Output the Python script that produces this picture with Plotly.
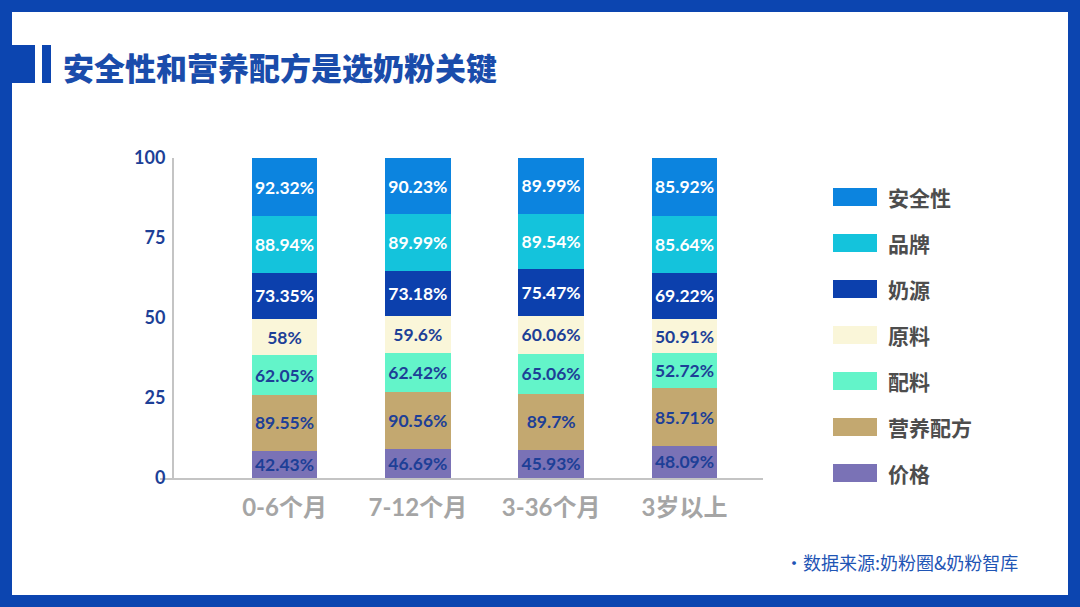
import plotly.graph_objects as go

# ---------------- data ----------------
categories = ["0-6个月", "7-12个月", "3-36个月", "3岁以上"]
series_names = ["价格", "营养配方", "配料", "原料", "奶源", "品牌", "安全性"]
price = [42.43, 46.69, 45.93, 48.09]
nutrition_formula = [89.55, 90.56, 89.7, 85.71]
ingredients = [62.05, 62.42, 65.06, 52.72]
raw_material = [58, 59.6, 60.06, 50.91]
milk_source = [73.35, 73.18, 75.47, 69.22]
brand = [88.94, 89.99, 89.54, 85.64]
safety = [92.32, 90.23, 89.99, 85.92]
y_ticks = [0, 25, 50, 75, 100]

series_values = [price, nutrition_formula, ingredients, raw_material, milk_source, brand, safety]
series_colors = ["#7a72b6", "#c3a870", "#63f4c9", "#faf6d9", "#0c40ad", "#14c3dc", "#0c84df"]
text_colors = ["#1d3f97", "#1d3f97", "#1d3f97", "#1d3f97", "#ffffff", "#ffffff", "#ffffff"]

# ---------------- layout geometry (pixels) ----------------
W, H = 1080, 607
L, R, T, B = 160, 763, 158, 478


def px2x(px):
    return (px - L) / (R - L)


def py2y(py):
    return (B - py) / (B - T)


FRAME = "#0c45b0"
CJK = "Noto Sans CJK SC"
NUM = "Lato, Noto Sans CJK SC"

fig = go.Figure()
for name, vals, col, tcol in zip(series_names, series_values, series_colors, text_colors):
    fig.add_trace(go.Bar(
        x=categories,
        y=vals,
        name=name,
        marker=dict(color=col, line=dict(width=0)),
        width=0.49,
        text=[f"{v:g}%" for v in vals],
        textposition="inside",
        insidetextanchor="middle",
        textangle=0,
        constraintext="none",
        textfont=dict(family=NUM, size=17.5, color=tcol, weight="bold"),
        showlegend=False,
        cliponaxis=False,
    ))

shapes = []
annotations = []


def rect(x0, y0, x1, y1, color):
    shapes.append(dict(type="rect", xref="paper", yref="paper",
                       x0=px2x(x0), x1=px2x(x1), y0=py2y(y1), y1=py2y(y0),
                       fillcolor=color, line=dict(width=0), layer="above"))


# frame
rect(0, 0, W, 12, FRAME)
rect(0, 595, W, H, FRAME)
rect(0, 0, 12, H, FRAME)
rect(1068, 0, W, H, FRAME)
# title markers
rect(0, 45, 35, 83, FRAME)
rect(42, 45, 51, 83, FRAME)

annotations.append(dict(
    text="安全性和营养配方是选奶粉关键", xref="paper", yref="paper",
    x=px2x(61), y=py2y(67), xanchor="left", yanchor="middle", showarrow=False,
    font=dict(family=CJK, size=31, color="#1a4cab", weight=900),
))

# custom legend (top entry = last series)
legend_order = list(zip(series_names, series_colors))[::-1]
for i, (name, col) in enumerate(legend_order):
    cy = 197 + i * 46
    shapes.append(dict(type="rect", xref="paper", yref="paper",
                       x0=px2x(833), x1=px2x(877), y0=py2y(cy + 9), y1=py2y(cy - 9),
                       fillcolor=col, line=dict(width=0)))
    annotations.append(dict(
        text=name, xref="paper", yref="paper", x=px2x(886), y=py2y(cy),
        xanchor="left", yanchor="middle", showarrow=False,
        font=dict(family=CJK, size=21, color="#4d4d4d", weight="bold"),
    ))

annotations.append(dict(
    text="·数据来源:奶粉圈&奶粉智库", xref="paper", yref="paper",
    x=px2x(783), y=py2y(562), xanchor="left", yanchor="middle", showarrow=False,
    font=dict(family=CJK, size=18, color="#1f55b5"),
))

fig.update_layout(
    width=W, height=H,
    margin=dict(l=L, r=W - R, t=T, b=H - B, pad=0),
    barmode="stack",
    barnorm="percent",
    paper_bgcolor="white",
    plot_bgcolor="white",
    showlegend=False,
    shapes=shapes,
    annotations=annotations,
    xaxis=dict(
        type="category",
        range=[-0.934, 3.589],
        showline=True, linecolor="#c4c4c4", linewidth=2,
        showgrid=False, ticks="", zeroline=False,
        tickfont=dict(family=NUM, size=24, color="#a5a5a5", weight="bold"),
        ticklabelstandoff=7,
    ),
    yaxis=dict(
        range=[0, 100.02],
        anchor="free", position=px2x(173),
        tickvals=y_ticks,
        showline=True, linecolor="#c4c4c4", linewidth=2,
        showgrid=False, zeroline=False, ticks="",
        tickfont=dict(family=NUM, size=18, color="#1d3f97", weight="bold"),
        ticklabelstandoff=3,
    ),
)

fig.write_html(
    "out.html",
    config={"displayModeBar": False},
    post_script="document.body.style.margin='0px';document.body.style.overflow='hidden';",
)
